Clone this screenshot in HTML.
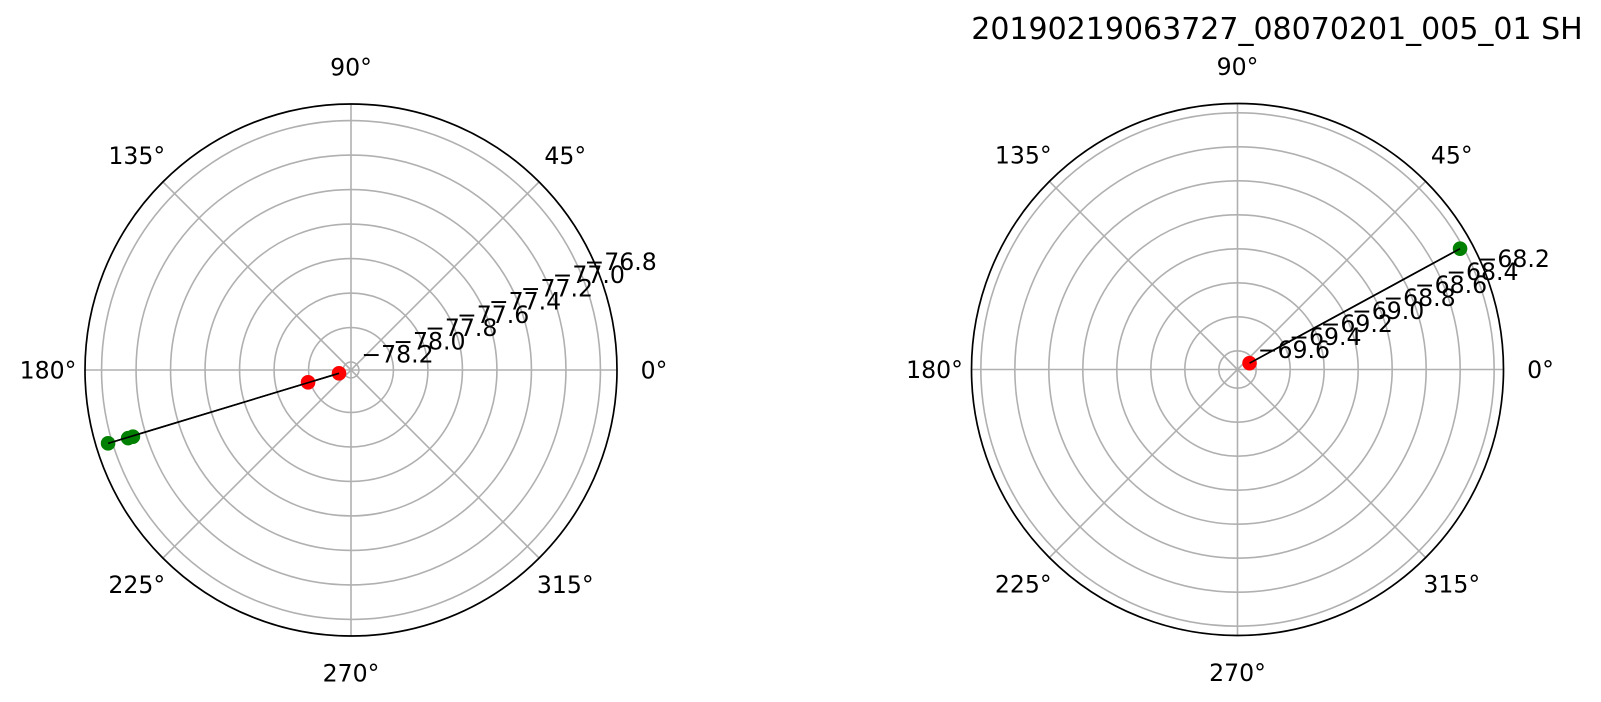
<!DOCTYPE html>
<html><head><meta charset="utf-8"><style>
html,body{margin:0;padding:0;background:#fff;}
svg{display:block;font-family:"DejaVu Sans","Liberation Sans",sans-serif;}
</style></head><body>
<svg id="fig" width="1601" height="702" viewBox="0 0 1601 702" xmlns="http://www.w3.org/2000/svg">
<rect width="1601" height="702" fill="#fff"/>
<text x="1277" y="39" font-size="30" text-anchor="middle" fill="#000">20190219063727_08070201_005_01 SH</text>
<g id="left"></g>
<g id="right"></g>
</svg>
<script>
const angleTicks = [0,45,90,135,180,225,270,315];
const leftRTicks = [-78.2,-78.0,-77.8,-77.6,-77.4,-77.2,-77.0,-76.8];
const leftRTickLabels = ["−78.2","−78.0","−77.8","−77.6","−77.4","−77.2","−77.0","−76.8"];
const leftRedTheta = [195.4,196.0];
const leftRedR = [-78.174,-77.987];
const leftGreenTheta = [197.0,197.0,196.8];
const leftGreenR = [-76.924,-76.895,-76.775];
const leftLineTheta = [195.4,196.8];
const leftLineR = [-78.174,-76.775];
const rightRTicks = [-69.6,-69.4,-69.2,-69.0,-68.8,-68.6,-68.4,-68.2];
const rightRTickLabels = ["−69.6","−69.4","−69.2","−69.0","−68.8","−68.6","−68.4","−68.2"];
const rightRedTheta = [27.7];
const rightRedR = [-69.63];
const rightGreenTheta = [28.5];
const rightGreenR = [-68.22];
const rightLineTheta = [27.7,28.5];
const rightLineR = [-69.63,-68.22];

const NS="http://www.w3.org/2000/svg";
function mk(tag,attrs,parent){const e=document.createElementNS(NS,tag);for(const k in attrs)e.setAttribute(k,attrs[k]);parent.appendChild(e);return e;}

function drawPolar(g,cx,cy,R,rmin,rmax,rTicks,rLabels,redT,redR,greenT,greenR,lineT,lineR){
  const rs=v=>(v-rmin)/(rmax-rmin)*R;
  const pt=(th,v)=>{const r=rs(v),a=th*Math.PI/180;return [cx+r*Math.cos(a),cy-r*Math.sin(a)];};
  rTicks.forEach((v,i)=>{
    const c=mk('circle',{cx:cx,cy:cy,r:rs(v),fill:'none',stroke:'#b0b0b0','stroke-width':1.6},g);
    
    
  });
  angleTicks.forEach(th=>{
    const a=th*Math.PI/180;
    const l=mk('line',{x1:cx,y1:cy,x2:cx+R*Math.cos(a),y2:cy-R*Math.sin(a),stroke:'#b0b0b0','stroke-width':1.6},g);
    
    
    const d=303;
    const t=mk('text',{x:cx+d*Math.cos(a),y:cy-d*Math.sin(a)+8.5,'font-size':23.6,'text-anchor':'middle',fill:'#000'},g);
    t.textContent=th+'°';
    
    
  });
  const sp=mk('circle',{cx:cx,cy:cy,r:R,fill:'none',stroke:'#000','stroke-width':1.7},g);
  
  
  rTicks.forEach((v,i)=>{
    const p=pt(22.5,v);
    const t=mk('text',{x:p[0]+3,y:p[1]-4.5,'font-size':23.6,fill:'#000'},g);
    t.textContent=rLabels[i];
    
    
  });
  const p0=pt(lineT[0],lineR[0]),p1=pt(lineT[1],lineR[1]);
  const ln=mk('line',{x1:p0[0],y1:p0[1],x2:p1[0],y2:p1[1],stroke:'#000','stroke-width':1.6},g);
  
  
  redT.forEach((th,i)=>{
    const p=pt(th,redR[i]);
    const c=mk('circle',{cx:p[0],cy:p[1],r:7.3,fill:'#ff0000'},g);
    
    
  });
  greenT.forEach((th,i)=>{
    const p=pt(th,greenR[i]);
    const c=mk('circle',{cx:p[0],cy:p[1],r:7.3,fill:'#008000'},g);
    
    
  });
  const ln2=mk('line',{x1:p0[0],y1:p0[1],x2:p1[0],y2:p1[1],stroke:'#000','stroke-width':1.6},g);
  
  
}
drawPolar(document.getElementById('left'),351,370,266,-78.246,-76.704,leftRTicks,leftRTickLabels,leftRedTheta,leftRedR,leftGreenTheta,leftGreenR,leftLineTheta,leftLineR);
drawPolar(document.getElementById('right'),1237.5,369.5,266,-69.71,-68.145,rightRTicks,rightRTickLabels,rightRedTheta,rightRedR,rightGreenTheta,rightGreenR,rightLineTheta,rightLineR);
</script>
</body></html>
